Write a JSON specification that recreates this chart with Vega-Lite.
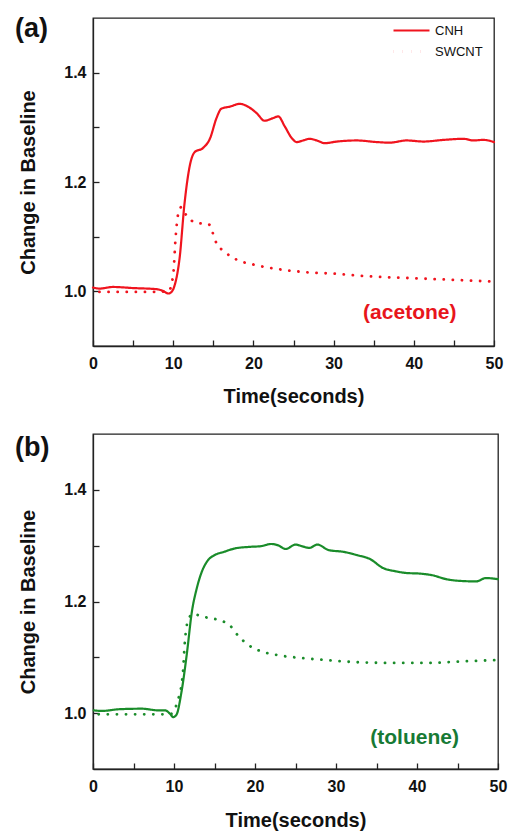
{
  "$schema": "https://vega.github.io/schema/vega-lite/v6.json",
  "background": "white",
  "padding": {"left": 14, "top": 14, "right": 5, "bottom": 0},
  "spacing": 26,
  "config": {
    "font": "Liberation Sans",
    "view": {"stroke": "#222", "strokeWidth": 1.3},
    "axis": {
      "domainColor": "#222", "domainWidth": 1.3, "tickColor": "#222", "tickWidth": 1.3, "tickSize": -6,
      "grid": false, "labelFont": "Liberation Sans", "labelFontWeight": "bold", "labelFontSize": 16, "labelColor": "#111",
      "titleFont": "Liberation Sans", "titleFontWeight": "bold", "titleFontSize": 20, "titleColor": "#111",
      "labelFlush": false, "labelOverlap": false
    },
    "title": {"font": "Liberation Sans", "fontSize": 27, "fontWeight": "bold", "color": "#111", "anchor": "start", "frame": "group"}
  },
  "datasets": {
    "a": [
      {"t": 0, "v": 1.007, "s": "CNH"}, {"t": 0.8, "v": 1.005, "s": "CNH"}, {"t": 2.5, "v": 1.008, "s": "CNH"},
      {"t": 5, "v": 1.006, "s": "CNH"}, {"t": 7.9, "v": 1.004, "s": "CNH"}, {"t": 8.7, "v": 1.001, "s": "CNH"},
      {"t": 9.4, "v": 0.996, "s": "CNH"}, {"t": 9.8, "v": 0.999, "s": "CNH"}, {"t": 10.2, "v": 1.012, "s": "CNH"},
      {"t": 10.8, "v": 1.061, "s": "CNH"}, {"t": 11.4, "v": 1.159, "s": "CNH"}, {"t": 12.1, "v": 1.232, "s": "CNH"},
      {"t": 12.7, "v": 1.255, "s": "CNH"}, {"t": 13.7, "v": 1.262, "s": "CNH"}, {"t": 14.6, "v": 1.28, "s": "CNH"},
      {"t": 15.4, "v": 1.317, "s": "CNH"}, {"t": 16.0, "v": 1.334, "s": "CNH"}, {"t": 17.1, "v": 1.338, "s": "CNH"},
      {"t": 18.3, "v": 1.343, "s": "CNH"}, {"t": 19.3, "v": 1.338, "s": "CNH"}, {"t": 20.4, "v": 1.326, "s": "CNH"},
      {"t": 21.4, "v": 1.312, "s": "CNH"}, {"t": 22.3, "v": 1.316, "s": "CNH"}, {"t": 23.1, "v": 1.32, "s": "CNH"},
      {"t": 23.9, "v": 1.302, "s": "CNH"}, {"t": 24.8, "v": 1.28, "s": "CNH"}, {"t": 25.4, "v": 1.273, "s": "CNH"},
      {"t": 26.2, "v": 1.276, "s": "CNH"}, {"t": 27.0, "v": 1.279, "s": "CNH"}, {"t": 27.9, "v": 1.276, "s": "CNH"},
      {"t": 28.9, "v": 1.271, "s": "CNH"}, {"t": 30.4, "v": 1.274, "s": "CNH"}, {"t": 32.9, "v": 1.276, "s": "CNH"},
      {"t": 35.4, "v": 1.273, "s": "CNH"}, {"t": 37.0, "v": 1.272, "s": "CNH"}, {"t": 39.1, "v": 1.276, "s": "CNH"},
      {"t": 41.2, "v": 1.274, "s": "CNH"}, {"t": 43.7, "v": 1.277, "s": "CNH"}, {"t": 46.2, "v": 1.279, "s": "CNH"},
      {"t": 47.4, "v": 1.276, "s": "CNH"}, {"t": 48.7, "v": 1.277, "s": "CNH"}, {"t": 50, "v": 1.273, "s": "CNH"},
      {"t": 0.8, "v": 0.999, "s": "SWCNT"}, {"t": 7.5, "v": 0.999, "s": "SWCNT"}, {"t": 9.4, "v": 1.0, "s": "SWCNT"},
      {"t": 10.0, "v": 1.03, "s": "SWCNT"}, {"t": 10.3, "v": 1.098, "s": "SWCNT"}, {"t": 10.6, "v": 1.14, "s": "SWCNT"},
      {"t": 11.0, "v": 1.154, "s": "SWCNT"}, {"t": 11.6, "v": 1.14, "s": "SWCNT"}, {"t": 12.9, "v": 1.125, "s": "SWCNT"},
      {"t": 14.4, "v": 1.123, "s": "SWCNT"}, {"t": 15.4, "v": 1.088, "s": "SWCNT"}, {"t": 16.6, "v": 1.07, "s": "SWCNT"},
      {"t": 17.9, "v": 1.058, "s": "SWCNT"}, {"t": 20.0, "v": 1.049, "s": "SWCNT"}, {"t": 22.9, "v": 1.041, "s": "SWCNT"},
      {"t": 26.6, "v": 1.035, "s": "SWCNT"}, {"t": 30.4, "v": 1.032, "s": "SWCNT"}, {"t": 34.9, "v": 1.027, "s": "SWCNT"},
      {"t": 39.9, "v": 1.024, "s": "SWCNT"}, {"t": 44.9, "v": 1.021, "s": "SWCNT"}, {"t": 49.7, "v": 1.018, "s": "SWCNT"}
    ],
    "b": [
      {"t": 0.1, "v": 1.005, "s": "CNH"}, {"t": 1.1, "v": 1.004, "s": "CNH"}, {"t": 3.2, "v": 1.007, "s": "CNH"},
      {"t": 6.0, "v": 1.008, "s": "CNH"}, {"t": 8.1, "v": 1.005, "s": "CNH"}, {"t": 8.9, "v": 1.005, "s": "CNH"},
      {"t": 9.5, "v": 0.999, "s": "CNH"}, {"t": 9.9, "v": 0.993, "s": "CNH"}, {"t": 10.3, "v": 0.997, "s": "CNH"},
      {"t": 10.9, "v": 1.036, "s": "CNH"}, {"t": 11.6, "v": 1.108, "s": "CNH"}, {"t": 12.2, "v": 1.181, "s": "CNH"},
      {"t": 12.8, "v": 1.223, "s": "CNH"}, {"t": 13.4, "v": 1.252, "s": "CNH"}, {"t": 14.2, "v": 1.274, "s": "CNH"},
      {"t": 15.0, "v": 1.283, "s": "CNH"}, {"t": 16.2, "v": 1.289, "s": "CNH"}, {"t": 17.5, "v": 1.295, "s": "CNH"},
      {"t": 19.5, "v": 1.298, "s": "CNH"}, {"t": 20.7, "v": 1.299, "s": "CNH"}, {"t": 22.0, "v": 1.303, "s": "CNH"},
      {"t": 22.8, "v": 1.301, "s": "CNH"}, {"t": 23.8, "v": 1.294, "s": "CNH"}, {"t": 25.0, "v": 1.302, "s": "CNH"},
      {"t": 25.8, "v": 1.299, "s": "CNH"}, {"t": 26.7, "v": 1.296, "s": "CNH"}, {"t": 27.7, "v": 1.302, "s": "CNH"},
      {"t": 29.1, "v": 1.292, "s": "CNH"}, {"t": 30.9, "v": 1.289, "s": "CNH"}, {"t": 32.6, "v": 1.283, "s": "CNH"},
      {"t": 34.2, "v": 1.276, "s": "CNH"}, {"t": 35.8, "v": 1.26, "s": "CNH"}, {"t": 37.4, "v": 1.254, "s": "CNH"},
      {"t": 38.7, "v": 1.251, "s": "CNH"}, {"t": 40.3, "v": 1.25, "s": "CNH"}, {"t": 41.9, "v": 1.247, "s": "CNH"},
      {"t": 43.6, "v": 1.24, "s": "CNH"}, {"t": 45.2, "v": 1.237, "s": "CNH"}, {"t": 47.3, "v": 1.236, "s": "CNH"},
      {"t": 48.5, "v": 1.242, "s": "CNH"}, {"t": 50, "v": 1.24, "s": "CNH"},
      {"t": 0.7, "v": 0.998, "s": "SWCNT"}, {"t": 7.7, "v": 0.998, "s": "SWCNT"}, {"t": 9.5, "v": 0.998, "s": "SWCNT"},
      {"t": 10.5, "v": 1.024, "s": "SWCNT"}, {"t": 11.1, "v": 1.072, "s": "SWCNT"}, {"t": 11.3, "v": 1.12, "s": "SWCNT"},
      {"t": 11.8, "v": 1.169, "s": "SWCNT"}, {"t": 12.4, "v": 1.178, "s": "SWCNT"}, {"t": 13.4, "v": 1.173, "s": "SWCNT"},
      {"t": 15.0, "v": 1.169, "s": "SWCNT"}, {"t": 16.9, "v": 1.157, "s": "SWCNT"}, {"t": 17.9, "v": 1.139, "s": "SWCNT"},
      {"t": 19.1, "v": 1.123, "s": "SWCNT"}, {"t": 20.7, "v": 1.111, "s": "SWCNT"}, {"t": 22.8, "v": 1.104, "s": "SWCNT"},
      {"t": 25.6, "v": 1.099, "s": "SWCNT"}, {"t": 28.9, "v": 1.095, "s": "SWCNT"}, {"t": 33.0, "v": 1.091, "s": "SWCNT"},
      {"t": 37.1, "v": 1.09, "s": "SWCNT"}, {"t": 41.1, "v": 1.09, "s": "SWCNT"}, {"t": 46.0, "v": 1.093, "s": "SWCNT"},
      {"t": 49.7, "v": 1.095, "s": "SWCNT"}
    ]
  },
  "vconcat": [
    {
      "width": 401, "height": 328,
      "title": {"text": "(a)", "dx": -78, "dy": 29},
      "layer": [
        {
          "data": {"name": "a"},
          "mark": {"type": "line", "interpolate": "monotone", "strokeCap": "round", "color": "#f0141e"},
          "encoding": {
            "x": {"field": "t", "type": "quantitative", "scale": {"domain": [0, 50]},
                  "axis": {"title": "Time(seconds)", "values": [0, 5, 10, 15, 20, 25, 30, 35, 40, 45, 50],
                           "labelExpr": "datum.value % 10 === 0 ? datum.label : ''", "labelPadding": 15, "titlePadding": 15}},
            "y": {"field": "v", "type": "quantitative", "scale": {"domain": [0.9, 1.5]},
                  "axis": {"title": "Change in Baseline", "values": [1.0, 1.1, 1.2, 1.3, 1.4], "format": ".1f",
                           "labelExpr": "round(datum.value * 10) % 2 === 0 ? datum.label : ''", "labelPadding": 13, "titlePadding": 25}},
            "strokeWidth": {"field": "s", "type": "nominal", "scale": {"domain": ["CNH", "SWCNT"], "range": [2.2, 2.8]}, "legend": null},
            "strokeDash": {"field": "s", "type": "nominal",
                           "scale": {"domain": ["CNH", "SWCNT"], "range": [[1, 0], [0.1, 9]]},
                           "legend": {"orient": "none", "legendX": 312, "legendY": 6, "title": null, "symbolType": "M-3.6,0H3.6",
                                      "symbolSize": 100, "symbolStrokeWidth": 2.2, "symbolStrokeColor": "#f0141e", "rowPadding": 7,
                                      "labelFont": "Liberation Sans", "labelFontSize": 13, "labelColor": "#111", "labelOffset": 17}}
          }
        },
        {
          "data": {"values": [{"t": 39.5, "v": 0.96, "label": "(acetone)"}]},
          "mark": {"type": "text", "font": "Liberation Sans", "fontSize": 21, "fontWeight": "bold", "color": "#e8151b"},
          "encoding": {
            "x": {"field": "t", "type": "quantitative"},
            "y": {"field": "v", "type": "quantitative"},
            "text": {"field": "label"}
          }
        }
      ]
    },
    {
      "width": 405, "height": 335,
      "title": {"text": "(b)", "dx": -78, "dy": 32},
      "layer": [
        {
          "data": {"name": "b"},
          "mark": {"type": "line", "interpolate": "monotone", "strokeCap": "round", "color": "#1a8c2a"},
          "encoding": {
            "x": {"field": "t", "type": "quantitative", "scale": {"domain": [0, 50]},
                  "axis": {"title": "Time(seconds)", "values": [0, 5, 10, 15, 20, 25, 30, 35, 40, 45, 50],
                           "labelExpr": "datum.value % 10 === 0 ? datum.label : ''", "labelPadding": 15, "titlePadding": 16}},
            "y": {"field": "v", "type": "quantitative", "scale": {"domain": [0.9, 1.5]},
                  "axis": {"title": "Change in Baseline", "values": [1.0, 1.1, 1.2, 1.3, 1.4], "format": ".1f",
                           "labelExpr": "round(datum.value * 10) % 2 === 0 ? datum.label : ''", "labelPadding": 13, "titlePadding": 25}},
            "strokeWidth": {"field": "s", "type": "nominal", "scale": {"domain": ["CNH", "SWCNT"], "range": [2.2, 2.8]}, "legend": null},
            "strokeDash": {"field": "s", "type": "nominal",
                           "scale": {"domain": ["CNH", "SWCNT"], "range": [[1, 0], [0.1, 9]]},
                           "legend": {"orient": "none", "legendX": 313, "legendY": 3, "title": null, "symbolType": "M-3.6,0H3.6",
                                      "symbolSize": 100, "symbolStrokeWidth": 2.2, "symbolStrokeColor": "#1a8c2a", "rowPadding": 7,
                                      "labelFont": "Liberation Sans", "labelFontSize": 13, "labelColor": "#111", "labelOffset": 17}}
          }
        },
        {
          "data": {"values": [{"t": 39.7, "v": 0.955, "label": "(toluene)"}]},
          "mark": {"type": "text", "font": "Liberation Sans", "fontSize": 21, "fontWeight": "bold", "color": "#177a35"},
          "encoding": {
            "x": {"field": "t", "type": "quantitative"},
            "y": {"field": "v", "type": "quantitative"},
            "text": {"field": "label"}
          }
        }
      ]
    }
  ]
}
